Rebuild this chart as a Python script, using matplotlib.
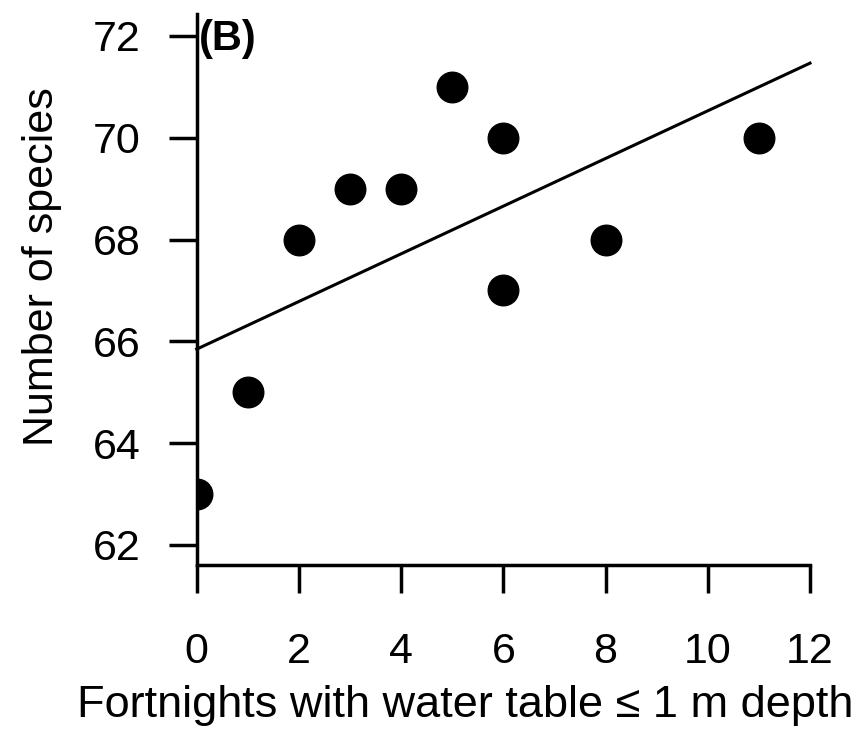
#!/usr/bin/env python3

import numpy as np
import matplotlib.pyplot as plt

plt.rcParams['font.family'] = ['Liberation Sans', 'DejaVu Sans']

# fortnights with shallow water table vs. species richness
fortnights = [0, 1, 2, 3, 4, 5, 6, 6, 8, 11]
n_species = [63, 65, 68, 69, 69, 71, 70, 67, 68, 70]

x_ticks = [0, 2, 4, 6, 8, 10, 12]
y_ticks = [62, 64, 66, 68, 70, 72]

# least squares fit
slope, intercept = np.polyfit(fortnights, n_species, 1)
x_fit = np.array([0, 12])
y_fit = intercept + slope * x_fit

fig = plt.figure(figsize=(8.64, 7.31), dpi=100)
ax = fig.add_axes([0.2277, 0.2271, 0.7098, 0.7538])

ax.plot(x_fit, y_fit, color='black', lw=2.2, clip_on=False)
ax.plot(fortnights, n_species, 'o', color='black', markersize=22)

ax.set_xlim(0, 12)
ax.set_ylim(61.607, 72.43)
ax.set_xticks(x_ticks)
ax.set_yticks(y_ticks)

for side in ['top', 'right']:
    ax.spines[side].set_visible(False)
for side in ['left', 'bottom']:
    ax.spines[side].set_linewidth(2.5)

ax.tick_params(direction='out', length=20.5, width=2.5, labelsize=31)
ax.tick_params(axis='x', pad=28)
ax.tick_params(axis='y', pad=20)

ax.set_xlabel('Fortnights with water table \u2264 1 m depth', fontsize=32.5, labelpad=9)
ax.set_ylabel('Number of species', fontsize=31, labelpad=22)
ax.xaxis.label.set_x(0.437)
ax.yaxis.label.set_y(0.541)

ax.text(0.04, 71.94, '(B)', fontsize=30, fontweight='bold', va='center', ha='left')

fig.savefig('out.png', dpi=100)
